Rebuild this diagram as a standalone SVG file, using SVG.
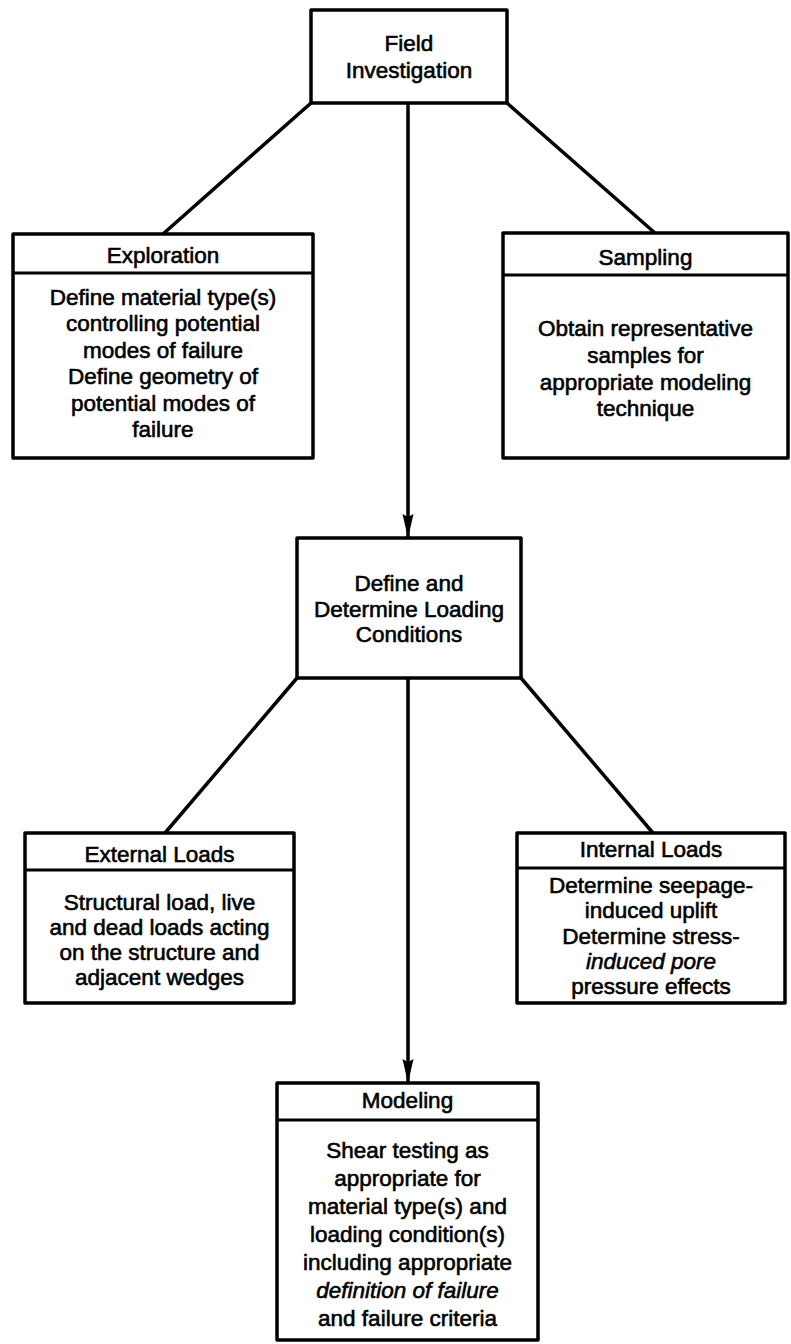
<svg xmlns="http://www.w3.org/2000/svg" width="791" height="1344" viewBox="0 0 791 1344">
<style>
.box{fill:#fff;stroke:#000;stroke-width:3.5;stroke-linejoin:round}
.div{stroke:#000;stroke-width:3}
.t{font-family:"Liberation Sans",Arial,sans-serif;font-size:22.5px;text-anchor:middle;fill:#000;stroke:#000;stroke-width:0.6}
.i{font-style:italic}
.c{stroke:#000;stroke-width:3.5;fill:none}
</style>
<defs>
<marker id="arr" markerUnits="userSpaceOnUse" markerWidth="24" markerHeight="14" viewBox="0 0 24 14" refX="24" refY="7" orient="auto">
<path d="M0,1.5 L24,7 L0,12.5 L3,7 z" fill="#000"/>
</marker>
</defs>
<g id="connectors">
<line class="c" x1="311" y1="103" x2="163" y2="234"/>
<line class="c" x1="507" y1="103" x2="655" y2="233"/>
<line class="c" x1="408" y1="103" x2="408" y2="538" marker-end="url(#arr)"/>
<line class="c" x1="297" y1="678" x2="165" y2="833"/>
<line class="c" x1="521" y1="678" x2="653" y2="833"/>
<line class="c" x1="408" y1="678" x2="408" y2="1083" marker-end="url(#arr)"/>
</g>
<g id="field">
<rect class="box" x="311" y="10" width="196" height="93"/>
<text class="t" x="409" y="51">Field</text>
<text class="t" x="409" y="78">Investigation</text>
</g>
<g id="exploration">
<rect class="box" x="13" y="234" width="300" height="224"/>
<line class="div" x1="13" y1="273" x2="313" y2="273"/>
<text class="t" x="163" y="263">Exploration</text>
<text class="t" x="163" y="305">Define material type(s)</text>
<text class="t" x="163" y="331">controlling potential</text>
<text class="t" x="163" y="358">modes of failure</text>
<text class="t" x="163" y="384">Define geometry of</text>
<text class="t" x="163" y="411">potential modes of</text>
<text class="t" x="163" y="437">failure</text>
</g>
<g id="sampling">
<rect class="box" x="503" y="233" width="285" height="225"/>
<line class="div" x1="503" y1="275" x2="788" y2="275"/>
<text class="t" x="645.5" y="265">Sampling</text>
<text class="t" x="645.5" y="336">Obtain representative</text>
<text class="t" x="645.5" y="363">samples for</text>
<text class="t" x="645.5" y="390">appropriate modeling</text>
<text class="t" x="645.5" y="416">technique</text>
</g>
<g id="loading">
<rect class="box" x="297" y="538" width="224" height="140"/>
<text class="t" x="409" y="591">Define and</text>
<text class="t" x="409" y="617">Determine Loading</text>
<text class="t" x="409" y="642">Conditions</text>
</g>
<g id="external">
<rect class="box" x="25" y="833" width="269" height="170"/>
<line class="div" x1="25" y1="870" x2="294" y2="870"/>
<text class="t" x="159.5" y="862">External Loads</text>
<text class="t" x="159.5" y="910">Structural load, live</text>
<text class="t" x="159.5" y="935">and dead loads acting</text>
<text class="t" x="159.5" y="960">on the structure and</text>
<text class="t" x="159.5" y="985">adjacent wedges</text>
</g>
<g id="internal">
<rect class="box" x="517" y="833" width="268" height="170"/>
<line class="div" x1="517" y1="868" x2="785" y2="868"/>
<text class="t" x="651" y="857">Internal Loads</text>
<text class="t" x="651" y="893">Determine seepage-</text>
<text class="t" x="651" y="918">induced uplift</text>
<text class="t" x="651" y="944">Determine stress-</text>
<text class="t i" x="651" y="969">induced pore</text>
<text class="t" x="651" y="994">pressure effects</text>
</g>
<g id="modeling">
<rect class="box" x="277" y="1083" width="261" height="257"/>
<line class="div" x1="277" y1="1120" x2="538" y2="1120"/>
<text class="t" x="407.5" y="1108">Modeling</text>
<text class="t" x="407.5" y="1158">Shear testing as</text>
<text class="t" x="407.5" y="1186">appropriate for</text>
<text class="t" x="407.5" y="1214">material type(s) and</text>
<text class="t" x="407.5" y="1242">loading condition(s)</text>
<text class="t" x="407.5" y="1270">including appropriate</text>
<text class="t i" x="407.5" y="1298">definition of failure</text>
<text class="t" x="407.5" y="1326">and failure criteria</text>
</g>
</svg>
